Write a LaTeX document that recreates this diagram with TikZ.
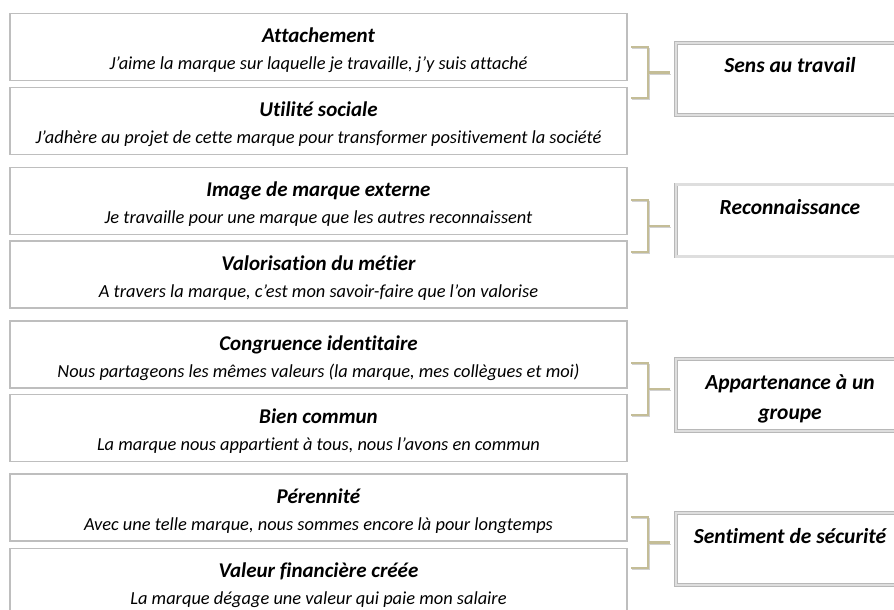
\documentclass[tikz,border=0pt]{standalone}
\usepackage{fontspec}
\setmainfont[Ligatures=NoCommon]{Carlito}

\definecolor{brackettan}{RGB}{196,189,151}
\definecolor{boxline}{RGB}{190,190,190}

\newcommand{\motif}[2]{{\fontsize{21}{24}\selectfont\bfseries\rule{0pt}{21.5pt}#1}\\[1pt]#2}

\begin{document}
\begin{tikzpicture}[x=1pt,y=-1pt,
	motifbox/.style={draw=boxline, line width=1.5pt, fill=white, minimum width=617pt, minimum height=67pt,
		align=center, inner sep=0pt, font=\fontsize{18.4}{26}\selectfont\itshape},
	themebox/.style={draw=black!28, double=black!13, double distance=2.5pt, line width=0.7pt, fill=white,
		minimum width=228pt, minimum height=71pt, text width=220pt, align=flush center, inner ysep=6pt,
		text height=24pt, text depth=36pt, font=\fontsize{21.5}{30}\selectfont\bfseries\itshape},
	bracket/.style={draw=brackettan, line width=2.5pt,
		preaction={draw=black!18, transform canvas={shift={(1pt,-1.5pt)}}}}]
		\useasboundingbox (0,0) rectangle (894,610);
		\clip (0,0) rectangle (894,610);
		\fill[white] (0,0) rectangle (894,610);

		% motifs, par paires
		\node[motifbox] (attach) at (318.5,47) {\motif{Attachement}{J’aime la marque sur laquelle je travaille, j’y suis attaché}};
		\node[motifbox] (utilite) at (318.5,121) {\motif{Utilité sociale}{J’adhère au projet de cette marque pour transformer positivement la société}};

		\node[motifbox] (image) at (318.5,201) {\motif{Image de marque externe}{Je travaille pour une marque que les autres reconnaissent}};
		\node[motifbox] (metier) at (318.5,274.5) {\motif{Valorisation du métier}{A travers la marque, c’est mon savoir-faire que l’on valorise}};

		\node[motifbox] (congru) at (318.5,354.5) {\motif{Congruence identitaire}{Nous partageons les mêmes valeurs (la marque, mes collègues et moi)}};
		\node[motifbox] (commun) at (318.5,428) {\motif{Bien commun}{La marque nous appartient à tous, nous l’avons en commun}};

		\node[motifbox] (perenne) at (318.5,507.5) {\motif{Pérennité}{Avec une telle marque, nous sommes encore là pour longtemps}};
		\node[motifbox] (valeur) at (318.5,582) {\motif{Valeur financière créée}{La marque dégage une valeur qui paie mon salaire}};

		% besoins
		\node[themebox] (sens) at (790,79) {Sens au travail};
		\node[themebox] (reco) at (790,220.5) {Reconnaissance};
		\node[themebox] (groupe) at (790,395) {Appartenance à un\\groupe};
		\node[themebox] (secu) at (790,549) {Sentiment de sécurité};

		% accolades
		\draw[bracket] (631,47) -| (648,98) -- (631,98);
		\draw[bracket] (648,72.5) coordinate (m1) -- ([xshift=-6pt]sens.west |- m1);

		\draw[bracket] (631,200) -| (648,252) -- (631,252);
		\draw[bracket] (648,226) coordinate (m2) -- ([xshift=-6pt]reco.west |- m2);

		\draw[bracket] (631,363) -| (648,415) -- (631,415);
		\draw[bracket] (648,389) coordinate (m3) -- ([xshift=-6pt]groupe.west |- m3);

		\draw[bracket] (631,517) -| (648,568) -- (631,568);
		\draw[bracket] (648,542.5) coordinate (m4) -- ([xshift=-6pt]secu.west |- m4);

	\end{tikzpicture}
\end{document}
